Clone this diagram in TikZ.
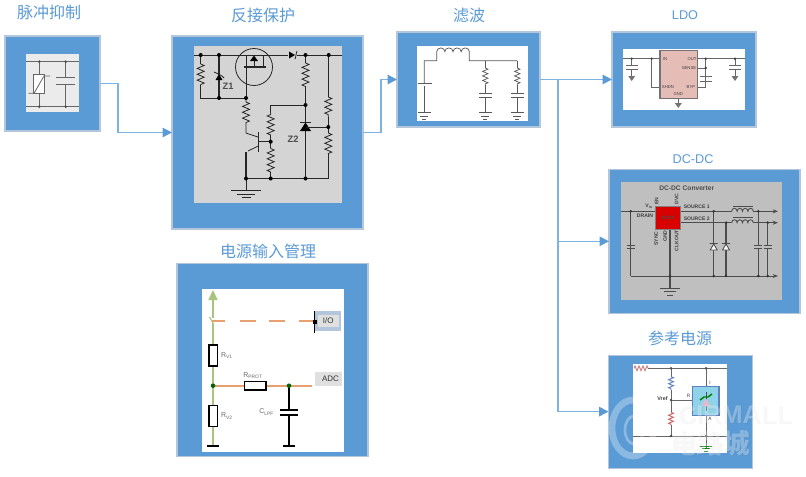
\documentclass[tikz,border=0pt]{standalone}
\usepackage{fontspec}
\setmainfont{Liberation Sans}
\newfontfamily\cjk{Noto Sans CJK SC}
\usepackage{amsmath,amssymb}
\usepackage{tikz}
\usetikzlibrary{decorations.pathmorphing,arrows.meta}
\definecolor{panelblue}{HTML}{5B9BD5}
\definecolor{paneledge}{HTML}{B4C6DC}
\definecolor{linkblue}{HTML}{7CB2E4}
\definecolor{wiregreen}{HTML}{A9C47F}
\definecolor{wireorange}{HTML}{E8A070}
\definecolor{labelgray}{HTML}{666666}
\definecolor{chippink}{HTML}{E6BDB6}
\definecolor{refcyan}{HTML}{8FD3E8}
\definecolor{refedge}{HTML}{5F80C0}
\tikzset{
  panel/.style 2 args={draw=paneledge,fill=panelblue,line width=0.8pt,inner sep=0pt,outer sep=0pt,
    minimum width=#1*0.75pt,minimum height=#2*0.75pt},
  inner/.style n args={3}{fill=#1,draw=none,inner sep=0pt,outer sep=0pt,
    minimum width=#2*0.75pt,minimum height=#3*0.75pt},
  title/.style={text=panelblue,font=\cjk\fontsize{12}{14}\selectfont,inner sep=0pt},
  link/.style={draw=linkblue,line width=0.9pt,-{Triangle[length=7pt,width=7pt,color=panelblue]}},
  zig/.style={decorate,decoration={zigzag,amplitude=2.6pt,segment length=4.4pt}},
  tiny/.style={font=\fontsize{3.2}{4}\selectfont,text=#1,inner sep=0pt},
  tiny/.default=black!75,
  small/.style={font=\fontsize{5.2}{6}\selectfont,text=labelgray,inner sep=0pt},
}
% three bars of a ground: centre x, top y, half width
\newcommand{\gndbars}[3]{%
  \draw[line width=0.7pt] (#1-#3,#2) -- (#1+#3,#2);
  \draw[line width=0.6pt] (#1-0.6*#3,#2+3.5) -- (#1+0.6*#3,#2+3.5);
  \draw[line width=0.6pt] (#1-0.3*#3,#2+7) -- (#1+0.3*#3,#2+7);}
% two plates of a capacitor: centre x, upper y, lower y, half width
\newcommand{\capplates}[4]{%
  \draw[line width=0.7pt] (#1-#4,#2) -- (#1+#4,#2) (#1-#4,#3) -- (#1+#4,#3);}
\begin{document}
\begin{tikzpicture}[x=0.75pt,y=-0.75pt]
\useasboundingbox (0,0) rectangle (806,476);
\fill[white] (0,0) rectangle (806,476);
% panels
\node[panel={95}{95}] (pulse) at (52.5,83.5) {};
\node[panel={191}{193}] (protect) at (267.5,132.5) {};
\node[panel={143}{95}] (filter) at (468.5,79.5) {};
\node[panel={144}{95}] (ldo) at (684,79.5) {};
\node[panel={191}{144}] (dcdc) at (704.5,241.3) {};
\node[panel={144}{113}] (refv) at (680.5,411.6) {};
\node[panel={191}{193}] (mgmt) at (272.5,359.6) {};
% titles
\node[title] (pulsetitle) at (49,12.5) {脉冲抑制};
\node[title] (protecttitle) at (263,15) {反接保护};
\node[title] (filtertitle) at (469,15) {滤波};
\node[title,font=\fontsize{9.5}{12}\selectfont] (ldotitle) at (685,15) {LDO};
\node[title,font=\fontsize{9.5}{12}\selectfont] (dcdctitle) at (693,159) {DC-DC};
\node[title] (refvtitle) at (680,338) {参考电源};
\node[title] (mgmttitle) at (268,251) {电源输入管理};
% connectors
\coordinate (split) at (558,79.5);
\draw[link] (pulse.east) -- ++(18,0) |- (protect.west);
\draw[link] (protect.east) -- ++(18,0) |- (filter.west);
\draw[link] (filter.east) -- (ldo.west);
\draw[link] (split) |- (dcdc.west);
\draw[link,line width=1.2pt] (split) |- (refv.west);

% pulse suppression
\node[inner={black!8}{53}{58}] (pulsebox) at (52.5,83) {};
\begin{scope}[draw=black!60,line width=0.6pt]
\draw (26,61.7) -- (79,61.7);
\draw (26,106.7) -- (79,106.7);
\draw (39.3,61.7) -- (39.3,74) (39.3,93.3) -- (39.3,106.7);
\draw (65.7,61.7) -- (65.7,77.7) (65.7,84.7) -- (65.7,106.7);
\draw[fill=white] (33.3,74) rectangle (44.3,93.3);
\draw (28.3,93.3) -- (34,93.3) -- (44,76) -- (50,76);
\capplates{65.7}{77.7}{84.7}{9.5}
\end{scope}
\foreach \x/\y in {39.3/61.7,65.7/61.7,39.3/106.7,65.7/106.7}
  \fill[black!70] (\x,\y) circle (1.1pt);

% reverse protection
\node[inner={black!17}{148}{157}] (protectbox) at (268,124.5) {};
\begin{scope}[line width=0.6pt,draw=black!85]
\draw (194,55) -- (288,55) (297,55) -- (342,55);
\draw (200.7,55) -- (200.7,64) (200.7,85) -- (200.7,98) -- (246,98);
\draw[zig] (200.7,64) -- (200.7,85);
\draw[line width=1.1pt] (219,55) -- (219,98);
\fill (215.5,80) -- (222.5,80) -- (219,74) -- cycle;
\draw (214,72) .. controls (216,73) and (222,75) .. (224,78);
\draw (254,67) circle (18.5);
\draw[line width=1pt] (244,67) -- (266,67);
\draw (246,55) -- (246,98) (263,55) -- (263,66);
\fill (250,61) -- (258,61) -- (254,55.5) -- cycle;
\draw (254,61) -- (254,66);
\fill (289,51.5) -- (289,58.5) -- (295,55) -- cycle;
\draw (297,51) .. controls (296,53) and (296,57) .. (295,59);
\draw (246,98) -- (246,102) (246,124) -- (246,133) -- (258,137);
\draw[zig] (246,102) -- (246,124);
\draw[line width=1.2pt] (258.3,132) -- (258.3,152);
\draw[line width=1pt] (258.3,141.7) -- (270.7,141.7);
\draw (258.3,146) -- (248,151);
\draw[line width=1pt] (246,152) -- (246,178.5);
\draw (246,178.5) -- (246,190.7);
\gndbars{246}{190.7}{15}
\draw (246,178.5) -- (328.3,178.5) -- (328.3,154);
\draw (270.7,178.5) -- (270.7,172) (270.7,148) -- (270.7,135) (270.7,113) -- (270.7,105) -- (305.5,105);
\draw[zig] (270.7,135) -- (270.7,113);
\draw[zig] (270.7,172) -- (270.7,148);
\draw (305.5,55) -- (305.5,63) (305.5,87) -- (305.5,178.5);
\draw[zig] (305.5,63) -- (305.5,87);
\draw[line width=1pt] (300,122.5) -- (311,122.5);
\fill (300,131) -- (311,131) -- (305.5,122.5) -- cycle;
\draw (305.5,127) -- (328.3,127);
\draw (328.3,55) -- (328.3,97) (328.3,117) -- (328.3,133);
\draw[zig] (328.3,97) -- (328.3,117);
\draw[zig] (328.3,133) -- (328.3,154);
\foreach \x/\y in {200.7/55,219/55,305.5/55,328.7/55,219/98,246/98,305.5/105,328.3/127,270.7/141.7,246/178.5,270.7/178.5,305.5/178.5}
  \fill (\x,\y) circle (1.5pt);
\end{scope}
\node[font=\fontsize{7}{8}\bfseries\selectfont,text=black!70,inner sep=0pt] (zone) at (228,86) {Z1};
\node[font=\fontsize{7}{8}\bfseries\selectfont,text=black!70,inner sep=0pt] (ztwo) at (293,139) {Z2};

% filter
\node[inner={white}{110.4}{74.7}] (filterbox) at (472.5,83.4) {};
\begin{scope}[line width=0.55pt,draw=black!65]
\draw (424.3,83.3) -- (424.3,60.7) -- (436.7,60.7) -- (436.7,51.7)
  arc (180:360:4.08 and 3.8) arc (180:360:4.08 and 3.8) arc (180:360:4.08 and 3.8) arc (180:360:4.08 and 3.8)
  -- (469.3,60.7) -- (517.3,60.7);
\draw[line width=0.9pt] (418.3,83.3) -- (431.7,83.3);
\draw (424.3,86) -- (424.3,112.7);
\draw (485.3,60.7) -- (485.3,68) (485.3,85) -- (485.3,93.3) (485.3,97.3) -- (485.3,112.7);
\draw (517.3,60.7) -- (517.3,68) (517.3,85) -- (517.3,93.3) (517.3,97.3) -- (517.3,112.7);
\begin{scope}[decoration={zigzag,amplitude=2pt,segment length=3.4pt}]
\draw[decorate] (485.3,68) -- (485.3,85);
\draw[decorate] (517.3,68) -- (517.3,85);
\end{scope}
\capplates{485.3}{93.3}{97.3}{6.3}
\capplates{517.3}{93.3}{97.3}{6.3}
\gndbars{424.3}{112.7}{6.5}
\gndbars{485.3}{112.7}{6.5}
\gndbars{517.3}{112.7}{6.5}
\end{scope}

% ldo
\node[inner={white}{121.4}{61}] (ldobox) at (684,79.8) {};
\begin{scope}[line width=0.7pt,draw=black!60]
\draw (623.3,58.7) -- (744.7,58.7);
\draw (651.7,58.7) -- (651.7,87.3) -- (660,87.3);
\draw (697.3,87.3) -- (705.7,87.3) -- (705.7,58.7);
\draw (697.3,68) -- (705.7,68);
\draw (631.7,58.7) -- (631.7,65) (631.7,69.3) -- (631.7,76);
\draw (735,58.7) -- (735,65) (735,69.3) -- (735,76);
\draw (678.3,98.7) -- (678.3,103);
\capplates{631.7}{65}{69.3}{6}
\capplates{735}{65}{69.3}{6}
\capplates{705.7}{76.7}{81}{6}
\foreach \x/\y in {631.7/76,735/76,678.3/103}
  \fill[black!55] (\x-3.5,\y) -- (\x+3.5,\y) -- (\x,\y+5) -- cycle;
\draw[fill=chippink,draw=black!55,line width=0.8pt] (660,50.7) rectangle (697.3,98.7);
\foreach \x/\y in {631.7/58.7,651.7/58.7,705.7/58.7,735/58.7,705.7/68}
  \fill[black!75] (\x,\y) circle (1pt);
\end{scope}
\node[tiny] (pinin) at (665,58.7) {IN};
\node[tiny] (pinout) at (692,58.7) {OUT};
\node[tiny] (pinsense) at (689,68) {SENSE};
\node[tiny] (pinshdn) at (668,87.3) {SHDN};
\node[tiny] (pinbyp) at (691,87.3) {BYP};
\node[tiny] (pingnd) at (678.3,94.5) {GND};

% dc-dc
\node[inner={black!25}{161}{118.3}] (dcdcbox) at (701.5,240.8) {};
\begin{scope}[line width=0.65pt,draw=black!70]
\draw (621,211.3) -- (655.7,211.3);
\draw (680.7,211.3) -- (731.7,211.3);
\draw (680.7,222.7) -- (731.7,222.7);
\foreach \y in {211.3,222.7} {
  \draw (731.7,\y) arc (180:360:2.7 and 3) arc (180:360:2.7 and 3) arc (180:360:2.7 and 3) arc (180:360:2.7 and 3);
  \draw[line width=1pt] (733,\y-5) -- (753,\y-5);
  \draw[-{Stealth[length=4pt,width=3pt]}] (753.3,\y) -- (778,\y);
}
\draw[-{Stealth[length=4pt,width=3pt]}] (630.7,276) -- (778,276);
\draw (630.7,211.3) -- (630.7,276);
\capplates{630.7}{245.5}{248.5}{4}
\draw[line width=1.1pt] (670,229.3) -- (670,288.3);
\gndbars{670}{288.3}{10}
\draw[line width=0.9pt] (713.7,211.3) -- (713.7,276) (726,222.7) -- (726,276);
\foreach \x in {713.7,726} {
  \fill[white] (\x-3.5,250) -- (\x+3.5,250) -- (\x,244) -- cycle;
  \draw (\x-3.5,250) -- (\x+3.5,250) -- (\x,244) -- cycle (\x-4,243.5) -- (\x+4,243.5);
}
\draw[line width=0.9pt] (758.3,211.3) -- (758.3,245.5) (758.3,248.5) -- (758.3,276) (767.7,222.7) -- (767.7,245.5) (767.7,248.5) -- (767.7,276);
\capplates{758.3}{245.5}{248.5}{4}
\capplates{767.7}{245.5}{248.5}{4}
\foreach \x/\y in {630.7/211.3,713.7/211.3,726/222.7,758.3/211.3,767.7/222.7,670/276,713.7/276,726/276,758.3/276,767.7/276}
  \fill[black!80] (\x,\y) circle (1.1pt);
\end{scope}
\node[fill=red!85!black,draw=black!50,line width=0.4pt,minimum width=18.75pt,minimum height=17.5pt,inner sep=0pt,font=\fontsize{3.6}{4}\bfseries\selectfont,text=black!70] (chip) at (668.2,217.7) {DCDC};
\node[font=\fontsize{5}{6}\bfseries\selectfont,text=black!70,inner sep=0pt] (dcdccap) at (686.7,188.3) {DC-DC Converter};
\node[tiny,font=\fontsize{3.8}{5}\bfseries\selectfont] (srcone) at (696.7,207) {SOURCE 1};
\node[tiny,font=\fontsize{3.8}{5}\bfseries\selectfont] (srctwo) at (696.7,218.7) {SOURCE 2};
\node[tiny,font=\fontsize{3.8}{5}\bfseries\selectfont] (drain) at (645,216) {DRAIN};
\node[tiny,font=\fontsize{3.8}{5}\bfseries\selectfont] (vin) at (649,206) {V$_{\text{in}}$};
\node[tiny,font=\fontsize{3.8}{5}\bfseries\selectfont,rotate=90] (pinen) at (656.5,201) {EN};
\node[tiny,font=\fontsize{3.8}{5}\bfseries\selectfont,rotate=90] (pindvc) at (676.5,199) {DVC};
\node[tiny,font=\fontsize{3.8}{5}\bfseries\selectfont,rotate=90] (pinsync) at (656,238.5) {SYNC};
\node[tiny,font=\fontsize{3.8}{5}\bfseries\selectfont,rotate=90] (pingndd) at (665,236) {GND};
\node[tiny,font=\fontsize{3.8}{5}\bfseries\selectfont,rotate=90] (pinclk) at (676.5,240.5) {CLKOUT};

% reference
\node[inner={white}{94.6}{88.7}] (refvbox) at (680,408.3) {};
\begin{scope}[line width=0.7pt,draw=black!60]
\draw (648,368.3) -- (727.3,368.3);
\draw (632.7,436) -- (727.3,436);
\draw[red!60!black!50,decorate,decoration={zigzag,amplitude=1.8pt,segment length=3pt}] (634,368.3) -- (648,368.3);
\draw (671,368.3) -- (671,376.7) (671,390) -- (671,412.3) (671,425) -- (671,436);
\draw[refedge,decorate,decoration={zigzag,amplitude=1.8pt,segment length=3pt}] (671,376.7) -- (671,390);
\draw[red!70!black!60,decorate,decoration={zigzag,amplitude=1.8pt,segment length=3pt}] (671,412.3) -- (671,425);
\draw (671,400) -- (692.7,400);
\draw (706,368.3) -- (706,386.7) (706,415.7) -- (706,448);
\draw[fill=refcyan,draw=refedge,line width=0.9pt] (692.7,386.7) rectangle (719,415.7);
\draw[black!70] (706,392) -- (706,411);
\draw[green!50!black,line width=1.1pt] (700,400) -- (704,397) -- (708,397) -- (712,394);
\fill[magenta!60!black!30] (701.5,406) -- (710.5,406) -- (706,398.5) -- cycle;
\foreach \x/\y in {671/368.3,706/368.3,671/400,671/436,706/436}
  \fill[black!70] (\x,\y) circle (1pt);
\draw[green!50!black] (700,446) -- (712,446) (702,448.5) -- (710,448.5) (704,451) -- (708,451);
\end{scope}
\node[tiny,font=\fontsize{4}{5}\bfseries\selectfont] (vreflabel) at (662.5,399) {Vref};
\node[tiny,font=\fontsize{3.6}{5}\selectfont] (pinr) at (688.7,395.7) {R};
\node[tiny,font=\fontsize{3.6}{5}\selectfont] (pini) at (710,382.7) {I};
\node[tiny,font=\fontsize{3.6}{5}\selectfont] (pina) at (710,419) {A};

% power input management
\node[inner={white}{142}{163}] (mgmtbox) at (272.7,370.5) {};
\draw[wiregreen,line width=1.2pt] (213,298) -- (213,318);
\draw[wiregreen,line width=1.2pt] (213,323) -- (213,446);
\draw[wiregreen,line width=0.8pt] (209.5,317) -- (213,323);
\fill[wiregreen] (208.3,300) -- (217.7,300) -- (213,290) -- cycle;
\draw[line width=0.9pt] (207.3,446) -- (219.3,446);
\foreach \a/\b in {211.7/225,240/255.7,269.3/285,299.3/313.3}
  \draw[wireorange,line width=1.6pt] (\a,321) -- (\b,321);
\draw[wireorange,line width=1.4pt] (213,385.7) -- (311.7,385.7);
\draw[line width=0.9pt,fill=white] (209,345) rectangle (217.7,366);
\draw[line width=0.9pt,fill=white] (209,405.3) rectangle (217.7,426.7);
\draw[line width=0.9pt,fill=white] (244.7,381.7) rectangle (266,390);
\draw[line width=1pt] (289,385.7) -- (289,446) (283.3,446) -- (295,446);
\fill[white] (279,411) rectangle (299,414);
\draw[line width=1.4pt] (280,410) -- (298,410) (280,415) -- (298,415);
\fill[black!60!green] (213,385.7) circle (1.7pt) (289,385.7) circle (1.7pt);
\node[fill=paneledge,minimum width=19.8pt,minimum height=15.5pt,inner sep=0pt] (iobox) at (327.5,321) {};
\node[fill=black!12,font=\fontsize{6}{8}\selectfont,text=black!80,minimum width=15.5pt,minimum height=9.3pt,inner sep=0pt] (iolabel) at (328.3,321) {I/O};
\draw[line width=1pt] (314.5,310.7) -- (314.5,333);
\fill (313,319.5) rectangle (316.5,323.5);
\node[fill=black!12,font=\fontsize{6}{8}\selectfont,text=black!80,minimum width=20.2pt,minimum height=10.5pt,inner sep=0pt] (adclabel) at (328.5,378.5) {\raisebox{-1.5pt}{\hspace{3pt}ADC}};
\node[small] (rvone) at (227,355.7) {R$_{\mathrm{V1}}$};
\node[small] (rvtwo) at (227,416) {R$_{\mathrm{V2}}$};
\node[small] (rprot) at (253,375.7) {R$_{\mathrm{PROT}}$};
\node[small] (clpf) at (266.7,412) {C$_{\mathrm{LPF}}$};

% watermark
\begin{scope}[black,opacity=0.035]
\node[font=\fontsize{19}{22}\bfseries\selectfont,inner sep=0pt] (markshade) at (736,416) {CIRMALL};
\node[font=\cjk\fontsize{20}{24}\bfseries\selectfont,inner sep=0pt] (markshadecjk) at (711,444) {电路城};
\end{scope}
\begin{scope}[white,opacity=0.3]
\draw[line width=5pt] (633,428) ellipse (21 and 28);
\draw[line width=2pt] (634,430) ellipse (9 and 14);
\node[font=\fontsize{19}{22}\bfseries\selectfont,inner sep=0pt] (markword) at (735,415) {CIRMALL};
\node[font=\cjk\fontsize{20}{24}\bfseries\selectfont,inner sep=0pt] (markcjk) at (710,443) {电路城};
\end{scope}
\end{tikzpicture}
\end{document}
